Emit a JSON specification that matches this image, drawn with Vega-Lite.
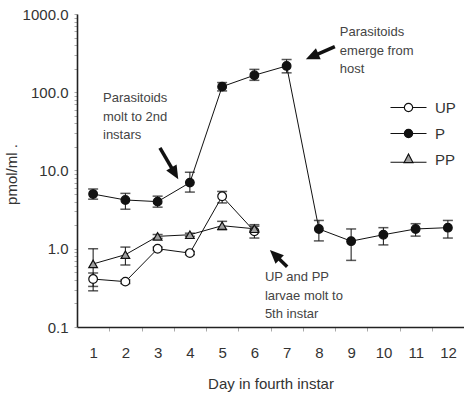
{
  "$schema": "https://vega.github.io/schema/vega-lite/v6.json",
  "width": 387,
  "height": 313,
  "autosize": {"type": "none"},
  "padding": {"left": 77, "top": 14, "right": 0, "bottom": 66},
  "background": "white",
  "config": {
    "view": {"stroke": null},
    "font": "Liberation Sans",
    "axis": {"labelFont": "Liberation Sans", "titleFont": "Liberation Sans", "labelColor": "#333", "titleColor": "#333", "titleFontWeight": "normal", "grid": false}
  },
  "resolve": {"scale": {"shape": "independent", "fill": "independent"}},
  "datasets": {
    "series": [
      {"series": "P", "day": 1, "value": 5.0, "lo": 4.3, "hi": 5.8},
      {"series": "P", "day": 2, "value": 4.2, "lo": 3.2, "hi": 5.1},
      {"series": "P", "day": 3, "value": 4.0, "lo": 3.4, "hi": 4.7},
      {"series": "P", "day": 4, "value": 7.0, "lo": 5.3, "hi": 9.5},
      {"series": "P", "day": 5, "value": 118, "lo": 104, "hi": 133},
      {"series": "P", "day": 6, "value": 165, "lo": 142, "hi": 196},
      {"series": "P", "day": 7, "value": 217, "lo": 177, "hi": 262},
      {"series": "P", "day": 8, "value": 1.79, "lo": 1.26, "hi": 2.3},
      {"series": "P", "day": 9, "value": 1.25, "lo": 0.71, "hi": 1.79},
      {"series": "P", "day": 10, "value": 1.51, "lo": 1.12, "hi": 1.86},
      {"series": "P", "day": 11, "value": 1.79, "lo": 1.45, "hi": 2.09},
      {"series": "P", "day": 12, "value": 1.86, "lo": 1.37, "hi": 2.3},
      {"series": "UP", "day": 1, "value": 0.41, "lo": 0.33, "hi": 0.49},
      {"series": "UP", "day": 2, "value": 0.38, "lo": 0.36, "hi": 0.4},
      {"series": "UP", "day": 3, "value": 1.0, "lo": 0.95, "hi": 1.05},
      {"series": "UP", "day": 4, "value": 0.88, "lo": 0.84, "hi": 0.92},
      {"series": "UP", "day": 5, "value": 4.68, "lo": 3.85, "hi": 5.4},
      {"series": "UP", "day": 6, "value": 1.67, "lo": 1.37, "hi": 2.03},
      {"series": "PP", "day": 1, "value": 0.64, "lo": 0.29, "hi": 1.0},
      {"series": "PP", "day": 2, "value": 0.84, "lo": 0.62, "hi": 1.05},
      {"series": "PP", "day": 3, "value": 1.44, "lo": 1.36, "hi": 1.52},
      {"series": "PP", "day": 4, "value": 1.51, "lo": 1.44, "hi": 1.58},
      {"series": "PP", "day": 5, "value": 1.97, "lo": 1.75, "hi": 2.24},
      {"series": "PP", "day": 6, "value": 1.8, "lo": 1.66, "hi": 1.94}
    ],
    "notes": [
      {"day": 1.306, "value": 75.0, "text": "Parasitoids\nmolt to 2nd\ninstars"},
      {"day": 8.65, "value": 523, "text": "Parasitoids\nemerge from\nhost"},
      {"day": 6.326, "value": 0.3815, "text": "UP and PP\nlarvae molt to\n5th instar"}
    ],
    "arrows": [
      {"id": "A", "day": 3.072, "value": 19.4, "day2": 3.515, "value2": 9.46},
      {"id": "B", "day": 8.495, "value": 382, "day2": 7.823, "value2": 290},
      {"id": "C", "day": 7.017, "value": 0.59, "day2": 6.66, "value2": 0.818}
    ],
    "heads": [
      {"id": "A", "day": 3.515, "value": 9.46},
      {"id": "B", "day": 7.823, "value": 290},
      {"id": "C", "day": 6.66, "value": 0.818}
    ]
  },
  "encoding": {
    "x": {
      "field": "day", "type": "quantitative", "title": "Day in fourth instar",
      "scale": {"domain": [0.5, 12.5], "nice": false, "zero": false},
      "axis": {
        "values": [1.5, 2.5, 3.5, 4.5, 5.5, 6.5, 7.5, 8.5, 9.5, 10.5, 11.5, 12.5],
        "labelExpr": "format(datum.value - 0.5, 'd')",
        "labelOffset": -16, "labelFlush": false, "labelOverlap": false, "labelBound": false,
        "labelFontSize": 15, "labelPadding": 14,
        "tickSize": 4, "tickColor": "#aaa", "tickWidth": 1,
        "domainColor": "#222", "domainWidth": 1.6,
        "titleFontSize": 15, "titleY": 61, "titleBaseline": "alphabetic"
      }
    },
    "y": {
      "field": "value", "type": "quantitative", "title": "pmol/ml .",
      "scale": {"type": "log", "domain": [0.1, 1000], "nice": false},
      "axis": {
        "values": [0.1, 0.2, 0.3, 0.4, 0.5, 0.6, 0.7, 0.8, 0.9, 1, 2, 3, 4, 5, 6, 7, 8, 9, 10, 20, 30, 40, 50, 60, 70, 80, 90, 100, 200, 300, 400, 500, 600, 700, 800, 900, 1000],
        "labelExpr": "abs(log(datum.value)/LN10 - round(log(datum.value)/LN10)) < 0.001 ? format(datum.value, '.1f') : ''",
        "labelFontSize": 15, "labelPadding": 6, "labelOverlap": false, "labelBound": false, "labelFlush": false,
        "tickSize": 3, "tickColor": "#aaa", "tickWidth": 1,
        "domainColor": "#222", "domainWidth": 1.6,
        "titleFontSize": 15, "titleX": -61, "titleY": 160, "titleBaseline": "alphabetic", "titleAngle": -90
      }
    }
  },
  "layer": [
    {
      "mark": {"type": "rule", "color": "#444", "strokeWidth": 1.6},
      "encoding": {"x": {"datum": 0.5}, "x2": {"datum": 12.5}, "y": {"datum": 1000}}
    },
    {
      "data": {"name": "series"},
      "mark": {"type": "line", "color": "#111", "strokeWidth": 1},
      "encoding": {"detail": {"field": "series"}}
    },
    {
      "data": {"name": "series"},
      "mark": {"type": "rule", "color": "#111", "strokeWidth": 1},
      "encoding": {
        "y": {"field": "lo", "type": "quantitative", "title": "pmol/ml ."},
        "y2": {"field": "hi"}
      }
    },
    {
      "data": {"name": "series"},
      "transform": [{"fold": ["lo", "hi"], "as": ["end", "cap"]}],
      "mark": {"type": "tick", "orient": "horizontal", "color": "#111", "size": 10, "thickness": 1.5},
      "encoding": {
        "y": {"field": "cap", "type": "quantitative", "title": "pmol/ml ."}
      }
    },
    {
      "data": {"name": "series"},
      "mark": {"type": "point", "filled": true, "stroke": "#111", "strokeWidth": 1.2, "size": 75, "opacity": 1},
      "encoding": {
        "shape": {
          "field": "series", "type": "nominal",
          "scale": {"domain": ["UP", "P", "PP"], "range": ["circle", "circle", "triangle-up"]},
          "legend": null
        },
        "fill": {
          "field": "series", "type": "nominal",
          "scale": {"domain": ["UP", "P", "PP"], "range": ["#ffffff", "#111111", "#a0a0a0"]},
          "legend": null
        }
      }
    },
    {
      "data": {"name": "series"},
      "transform": [{"filter": "false"}],
      "mark": {"type": "point", "filled": false, "color": "#111", "stroke": "#111", "strokeWidth": 1.2, "opacity": 1},
      "encoding": {
        "shape": {
          "field": "series", "type": "nominal",
          "scale": {"domain": ["UP", "P", "PP"], "range": [
            "M-1.3,0H-0.3M0.3,0H1.3M0.3,0A0.3,0.3 0 1 1 -0.3,0A0.3,0.3 0 1 1 0.3,0Z",
            "M-1.3,0H-0.3M0.3,0H1.3M0.3,0A0.3,0.3 0 1 1 -0.3,0A0.3,0.3 0 1 1 0.3,0Z",
            "M-1.3,0.2H-0.3M0.3,0.2H1.3M0,-0.4L0.32,0.22L-0.32,0.22Z"
          ]},
          "legend": {
            "title": null, "orient": "none", "legendX": 317, "legendY": 79, "padding": 0,
            "symbolSize": 767, "symbolStrokeWidth": 1.2,
            "labelFontSize": 15, "labelColor": "#333", "labelOffset": 12, "rowPadding": 3,
            "encode": {"symbols": {"stroke": {"value": "#111"}, "strokeWidth": {"value": 1.2}}}
          }
        },
        "fill": {
          "field": "series", "type": "nominal",
          "scale": {"domain": ["UP", "P", "PP"], "range": ["#ffffff", "#111111", "#a0a0a0"]},
          "legend": {
            "title": null, "orient": "none", "legendX": 317, "legendY": 79, "padding": 0,
            "symbolSize": 767, "symbolStrokeWidth": 1.2,
            "labelFontSize": 15, "labelColor": "#333", "labelOffset": 12, "rowPadding": 3,
            "encode": {"symbols": {"stroke": {"value": "#111"}, "strokeWidth": {"value": 1.2}}}
          }
        }
      }
    },
    {
      "data": {"name": "notes"},
      "mark": {"type": "text", "align": "left", "baseline": "alphabetic", "fontSize": 13, "color": "#444", "lineBreak": "\n", "lineHeight": 18.5},
      "encoding": {"text": {"field": "text"}}
    },
    {
      "data": {"name": "arrows"},
      "mark": {"type": "rule", "color": "#111", "strokeWidth": 3.5},
      "encoding": {
        "x2": {"field": "day2"},
        "y2": {"field": "value2"}
      }
    },
    {
      "data": {"name": "heads"},
      "transform": [{"filter": "datum.id === 'A'"}],
      "mark": {"type": "point", "shape": "M0,-1L0.75,0.7L-0.75,0.7Z", "size": 256, "filled": true, "color": "#111", "opacity": 1, "angle": 149.7}
    },
    {
      "data": {"name": "heads"},
      "transform": [{"filter": "datum.id === 'B'"}],
      "mark": {"type": "point", "shape": "M0,-1L0.75,0.7L-0.75,0.7Z", "size": 256, "filled": true, "color": "#111", "opacity": 1, "angle": 246.5}
    },
    {
      "data": {"name": "heads"},
      "transform": [{"filter": "datum.id === 'C'"}],
      "mark": {"type": "point", "shape": "M0,-1L0.75,0.7L-0.75,0.7Z", "size": 256, "filled": true, "color": "#111", "opacity": 1, "angle": 314}
    }
  ]
}
